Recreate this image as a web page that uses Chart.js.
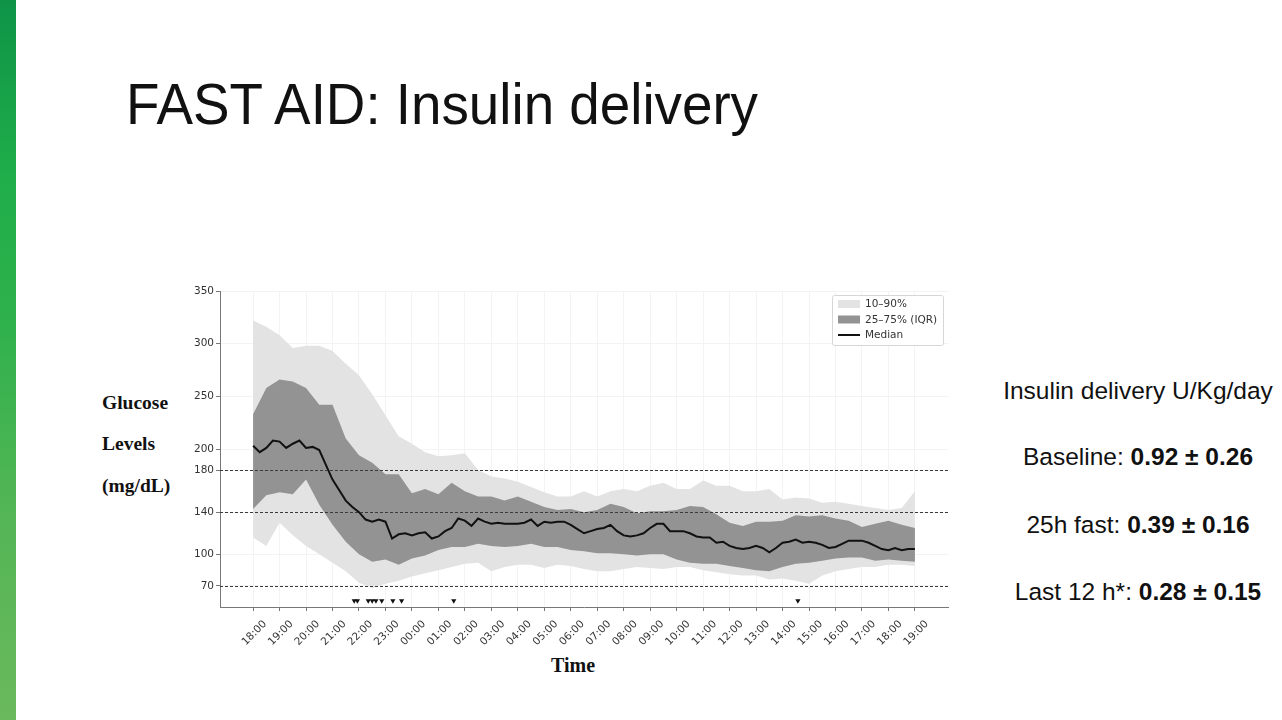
<!DOCTYPE html>
<html>
<head>
<meta charset="utf-8">
<script src="https://cdn.jsdelivr.net/npm/chart.js@4.4.1/dist/chart.umd.min.js"></script>
<style>
  html, body { margin: 0; padding: 0; background: #fff; }
  body { width: 1282px; height: 720px; position: relative; overflow: hidden; font-family: 'Liberation Sans', Arial, sans-serif; }
  .strip { position: absolute; left: 0; top: 0; width: 16px; height: 720px;
    background: linear-gradient(180deg, #0f9447 0%, #1fae4a 25%, #2fb14c 45%, #52b555 70%, #6ab95c 100%); }
  .title { position: absolute; left: 126px; top: 71px; font-size: 57px; color: #111; white-space: nowrap; transform-origin: left top; }
  .ylab { position: absolute; left: 102px; font-family: 'Liberation Serif', 'Times New Roman', serif; font-weight: bold; font-size: 19.5px; color: #111; }
  .xlab { position: absolute; left: 573px; top: 654px; transform: translateX(-50%); font-family: 'Liberation Serif', 'Times New Roman', serif; font-weight: bold; font-size: 20px; color: #111; }
  .side { position: absolute; left: 1138px; transform: translateX(-50%); font-size: 24.5px; color: #111; white-space: nowrap; }
  .side b { font-weight: bold; }
  #wrap { position: absolute; left: 180px; top: 280px; width: 780px; height: 367px; }
</style>
</head>
<body>
<div class="strip"></div>
<div class="title" id="title">FAST AID: Insulin delivery</div>

<div class="ylab" style="top:392px">Glucose</div>
<div class="ylab" style="top:433px">Levels</div>
<div class="ylab" style="top:475px">(mg/dL)</div>
<div class="xlab">Time</div>

<div class="side" style="top:377px">Insulin delivery U/Kg/day</div>
<div class="side" style="top:443px">Baseline: <b>0.92 ± 0.26</b></div>
<div class="side" style="top:511px">25h fast: <b>0.39 ± 0.16</b></div>
<div class="side" style="top:578px">Last 12 h*: <b>0.28 ± 0.15</b></div>

<div id="wrap"><canvas id="glucoseChart"></canvas></div>

<script>
// hours after 18:00 on day 1
const tickHours = [0,1,2,3,4,5,6,7,8,9,10,11,12,13,14,15,16,17,18,19,20,21,22,23,24,25];
const tickLabels = ['18:00','19:00','20:00','21:00','22:00','23:00','00:00','01:00','02:00','03:00','04:00','05:00','06:00',
  '07:00','08:00','09:00','10:00','11:00','12:00','13:00','14:00','15:00','16:00','17:00','18:00','19:00'];
const yTicks = [70, 100, 140, 180, 200, 250, 300, 350];
const thresholdValues = [70, 140, 180];

const bandHours = [0,0.5,1,1.5,2,2.5,3,3.5,4,4.5,5,5.5,6,6.5,7,7.5,8,8.5,9,9.5,10,10.5,11,11.5,12,12.5,
  13,13.5,14,14.5,15,15.5,16,16.5,17,17.5,18,18.5,19,19.5,20,20.5,21,21.5,22,22.5,23,23.5,24,24.5,25];
const p90 = [322,316,308,296,298,298,293,281,270,252,232,212,205,197,193,194,196,180,174,172,169,164,159,155,155,160,
  155,160,162,160,165,168,162,162,170,165,165,160,160,162,152,154,153,149,150,148,146,144,142,144,160];
const p75 = [233,258,266,264,258,242,242,210,194,187,176,176,158,162,157,168,160,155,155,151,155,150,145,142,143,140,
  142,148,145,139,141,141,142,146,145,138,130,127,131,131,132,137,136,137,134,132,126,129,132,128,125];
const p25 = [143,156,159,157,171,147,128,112,100,93,95,90,96,99,104,107,107,110,108,107,108,110,107,107,104,103,
  101,101,100,99,100,100,95,92,91,91,89,87,85,84,88,91,92,94,96,97,97,94,95,94,93];
const p10 = [116,108,130,118,108,100,92,84,73,68,72,75,79,82,85,88,91,92,84,88,90,90,87,90,89,86,
  84,84,86,88,87,86,88,88,85,83,81,80,80,76,77,75,72,80,84,86,88,88,90,90,89];

const medianHours = [0,0.25,0.5,0.75,1,1.25,1.5,1.75,2,2.25,2.5,2.75,3,3.25,3.5,3.75,4,4.25,4.5,4.75,
  5,5.25,5.5,5.75,6,6.25,6.5,6.75,7,7.25,7.5,7.75,8,8.25,8.5,8.75,9,9.25,9.5,9.75,
  10,10.25,10.5,10.75,11,11.25,11.5,11.75,12,12.25,12.5,12.75,13,13.25,13.5,13.75,14,14.25,14.5,14.75,
  15,15.25,15.5,15.75,16,16.25,16.5,16.75,17,17.25,17.5,17.75,18,18.25,18.5,18.75,19,19.25,19.5,19.75,
  20,20.25,20.5,20.75,21,21.25,21.5,21.75,22,22.25,22.5,22.75,23,23.25,23.5,23.75,24,24.25,24.5,24.75,25];
const median = [203,197,201,208, 207,201,205,208, 201,202,199,185, 171,161,151,145, 140,133,131,133,
  131,115,119,120, 118,120,121,115, 117,122,125,134, 132,127,134,131, 129,130,129,129,
  129,130,133,127, 131,130,131,131, 128,124,120,122, 124,125,128,122, 118,117,118,120,
  125,129,129,122, 122,122,120,117, 116,116,111,112, 108,106,105,106, 108,106,102,106,
  111,112,114,111, 112,111,109,106, 107,110,113,113, 113,111,108,105, 104,106,104,105, 105];

// insulin / event markers along the bottom
const markerHours = [3.82, 3.94, 4.35, 4.5, 4.64, 4.86, 5.28, 5.61, 7.58, 20.58];
const markerLevel = 56;

const LIGHT = '#e3e3e3';
const DARK = '#939393';

function toPoints(xs, ys) {
    return xs.map((x, i) => ({ x: x, y: ys[i] }));
}

// dashed target lines drawn from the y scale
const thresholdPlugin = {
    id: 'thresholds',
    afterDatasetsDraw(chart) {
        const { ctx, chartArea, scales } = chart;
        ctx.save();
        ctx.strokeStyle = '#3a3a3a';
        ctx.lineWidth = 1;
        ctx.setLineDash([3, 2]);
        thresholdValues.forEach(v => {
            const y = Math.round(scales.y.getPixelForValue(v)) + 0.5;
            ctx.beginPath();
            ctx.moveTo(chartArea.left, y);
            ctx.lineTo(chartArea.right, y);
            ctx.stroke();
        });
        ctx.restore();
    }
};

// matplotlib-like legend box in the upper right corner of the plot
const boxLegendPlugin = {
    id: 'boxLegend',
    afterDraw(chart) {
        const { ctx, chartArea } = chart;
        const x0 = chartArea.right - 116, y0 = chartArea.top + 4, w = 111, h = 50;
        ctx.save();
        ctx.fillStyle = 'rgba(255,255,255,0.85)';
        ctx.strokeStyle = '#d6d6d6';
        ctx.lineWidth = 1;
        ctx.beginPath();
        ctx.roundRect(x0 + 0.5, y0 + 0.5, w, h, 2);
        ctx.fill();
        ctx.stroke();
        const items = [
            { label: '10–90%', kind: 'patch', color: LIGHT },
            { label: '25–75% (IQR)', kind: 'patch', color: DARK },
            { label: 'Median', kind: 'line', color: '#111' }
        ];
        ctx.font = '10.5px "DejaVu Sans", sans-serif';
        ctx.textBaseline = 'middle';
        items.forEach((it, i) => {
            const cy = y0 + 9 + i * 15.5;
            if (it.kind === 'patch') {
                ctx.fillStyle = it.color;
                ctx.fillRect(x0 + 6, cy - 4, 22, 8);
            } else {
                ctx.strokeStyle = it.color;
                ctx.lineWidth = 2;
                ctx.beginPath();
                ctx.moveTo(x0 + 6, cy);
                ctx.lineTo(x0 + 28, cy);
                ctx.stroke();
            }
            ctx.fillStyle = '#333';
            ctx.fillText(it.label, x0 + 33, cy + 0.5);
        });
        ctx.restore();
    }
};

const tickFont = { family: '"DejaVu Sans", sans-serif', size: 10.5 };

new Chart(document.getElementById('glucoseChart'), {
    type: 'line',
    data: {
        datasets: [
            { label: 'Median', data: toPoints(medianHours, median), borderColor: '#111', borderWidth: 2,
              pointRadius: 0, fill: false, order: 0 },
            { label: 'Markers', type: 'scatter', data: markerHours.map(h => ({ x: h, y: markerLevel })),
              pointStyle: 'triangle', rotation: 180, pointRadius: 3, backgroundColor: '#111', borderColor: '#111',
              borderWidth: 0, order: 0 },
            { label: 'p25', data: toPoints(bandHours, p25), borderWidth: 0, pointRadius: 0, fill: false, order: 1 },
            { label: '25–75% (IQR)', data: toPoints(bandHours, p75), borderWidth: 0, pointRadius: 0,
              fill: '-1', backgroundColor: DARK, order: 1 },
            { label: 'p10', data: toPoints(bandHours, p10), borderWidth: 0, pointRadius: 0, fill: false, order: 2 },
            { label: '10–90%', data: toPoints(bandHours, p90), borderWidth: 0, pointRadius: 0,
              fill: '-1', backgroundColor: LIGHT, order: 2 }
        ]
    },
    options: {
        responsive: true,
        maintainAspectRatio: false,
        animation: false,
        layout: { padding: { top: 11, right: 12, left: 0, bottom: 0 } },
        plugins: { legend: { display: false }, tooltip: { enabled: false } },
        scales: {
            x: {
                type: 'linear', min: -1.25, max: 26.25,
                afterBuildTicks: scale => { scale.ticks = tickHours.map(v => ({ value: v })); },
                afterFit: scale => { scale.height = 40; },
                ticks: { minRotation: 45, maxRotation: 45, color: '#333', font: tickFont, padding: 7,
                         labelOffset: 12, callback: (v, i) => tickLabels[i] },
                grid: { color: '#f3f3f3', tickColor: '#777', tickLength: 4 },
                border: { color: '#777', width: 1 }
            },
            y: {
                min: 50, max: 350,
                afterBuildTicks: scale => { scale.ticks = yTicks.map(v => ({ value: v })); },
                afterFit: scale => { scale.width = 40; },
                ticks: { color: '#333', font: tickFont, padding: 2 },
                grid: { color: '#f3f3f3', tickColor: '#777', tickLength: 4 },
                border: { color: '#777', width: 1 }
            }
        }
    },
    plugins: [thresholdPlugin, boxLegendPlugin]
});

// squeeze the title to the slide width it occupies
const title = document.getElementById('title');
const tw = title.getBoundingClientRect().width;
title.style.transform = 'scaleX(' + (632 / tw) + ')';
</script>
</body>
</html>
